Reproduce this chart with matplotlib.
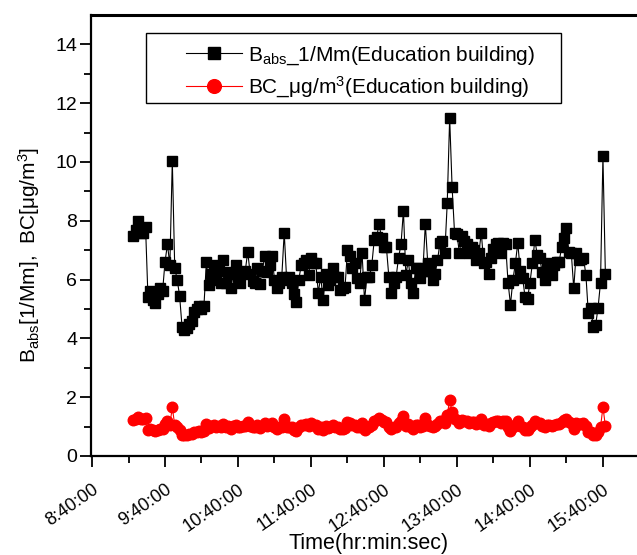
import pandas as pd
import matplotlib
matplotlib.use('Agg')
import matplotlib.pyplot as plt
import matplotlib.dates as mdates
from matplotlib.patches import Rectangle

plt.rcParams['font.family'] = ['Liberation Sans', 'DejaVu Sans']
plt.rcParams['mathtext.fontset'] = 'custom'
plt.rcParams['mathtext.rm'] = 'Liberation Sans'
plt.rcParams['mathtext.it'] = 'Liberation Sans:italic'

# -----------------------------
# Data (sampled every 2 min)
# -----------------------------
sample_start = '2013-01-01 09:14:00'
sample_step = '2min'

babs = [7.5, 7.7, 8.0, 7.6, 7.6, 7.8,
        5.4, 5.6, 5.3, 5.2, 5.5, 5.7, 5.6,
        6.6, 7.2, 6.5, 10.05, 6.4, 6.0, 5.45,
        4.4, 4.3, 4.35, 4.5, 4.6, 4.9, 5.0, 5.1, 5.0, 5.1,
        6.6, 5.8, 6.2, 6.5, 6.0,
        6.3, 5.9, 6.65, 5.9, 6.25, 5.7, 6.2, 6.5, 6.1, 5.9,
        6.25, 6.3, 6.95, 6.2, 5.95, 5.9, 6.4, 5.85, 6.3, 6.8,
        6.25, 6.5, 6.8, 6.0, 5.7, 5.9, 6.1, 7.6, 6.0, 6.1,
        5.9, 5.5, 5.25, 6.0, 6.5, 6.55, 6.65, 6.15, 6.75, 6.55,
        6.55, 5.55, 6.1, 5.3, 6.2, 5.8, 6.0, 6.4, 6.1, 6.1,
        5.65, 5.7, 5.75, 7.0, 6.8, 6.4, 6.55, 6.05, 5.9, 6.9,
        5.3, 6.1, 6.1, 6.5, 7.35, 7.45, 7.9, 7.4, 7.1, 7.1,
        6.1, 5.55, 5.9, 6.1, 6.75, 7.2, 8.35, 6.15, 6.65, 5.9,
        5.55, 6.4, 6.4, 6.05, 6.3, 7.9, 6.55, 6.3, 6.0, 6.2,
        6.65, 7.25, 7.3, 6.9, 8.6, 11.5, 9.15, 7.6, 7.55, 6.9,
        7.5, 7.3, 7.2, 6.9, 7.1, 7.0, 6.65, 6.9, 7.6, 6.55,
        6.6, 6.2, 6.75, 7.05, 7.2, 7.25, 6.9, 7.25, 7.2, 5.9,
        5.15, 6.0, 6.55, 7.25, 6.3, 6.05, 5.4, 5.35, 5.9, 6.55,
        7.35, 6.85, 6.75, 6.25, 6.0, 6.4, 6.55, 6.15, 6.5, 6.6,
        6.6, 7.1, 7.4, 7.75, 6.95, 6.9, 5.7, 6.9, 6.65, 6.7,
        6.75, 6.15, 4.85, 5.05, 4.4, 4.45, 5.05, 5.9, 10.2, 6.2]

bc = [1.23, 1.26, 1.31, 1.25, 1.25, 1.28,
      0.89, 0.92, 0.87, 0.85, 0.90, 0.93, 0.92,
      1.08, 1.18, 1.07, 1.65, 1.05, 0.98, 0.89,
      0.72, 0.70, 0.71, 0.74, 0.75, 0.80, 0.82, 0.84, 0.82, 0.84,
      1.08, 0.95, 1.02, 1.07, 0.98,
      1.03, 0.97, 1.09, 0.97, 1.02, 0.93, 1.02, 1.07, 1.00, 0.97,
      1.02, 1.03, 1.14, 1.02, 0.98, 0.97, 1.05, 0.96, 1.03, 1.11,
      1.02, 1.07, 1.11, 0.98, 0.93, 0.97, 1.00, 1.25, 0.98, 1.00,
      0.97, 0.90, 0.86, 0.98, 1.07, 1.07, 1.09, 1.01, 1.11, 1.07,
      1.07, 0.91, 1.00, 0.87, 1.02, 0.95, 0.98, 1.05, 1.00, 1.00,
      0.93, 0.93, 0.94, 1.15, 1.11, 1.05, 1.07, 0.99, 0.97, 1.13,
      0.87, 1.00, 1.00, 1.07, 1.20, 1.22, 1.30, 1.21, 1.16, 1.16,
      1.00, 0.91, 0.97, 1.00, 1.11, 1.18, 1.37, 1.01, 1.09, 0.97,
      0.91, 1.05, 1.05, 0.99, 1.03, 1.30, 1.07, 1.03, 0.98, 1.02,
      1.09, 1.19, 1.20, 1.13, 1.41, 1.89, 1.50, 1.25, 1.24, 1.13,
      1.23, 1.20, 1.18, 1.13, 1.16, 1.15, 1.09, 1.13, 1.25, 1.07,
      1.08, 1.02, 1.11, 1.16, 1.18, 1.19, 1.13, 1.19, 1.18, 0.97,
      0.84, 0.98, 1.07, 1.19, 1.03, 0.99, 0.89, 0.88, 0.97, 1.07,
      1.20, 1.12, 1.11, 1.02, 0.98, 1.05, 1.07, 1.01, 1.07, 1.08,
      1.08, 1.16, 1.21, 1.27, 1.14, 1.13, 0.93, 1.13, 1.09, 1.10,
      1.11, 1.01, 0.80, 0.83, 0.72, 0.73, 0.83, 0.97, 1.67, 1.02]

times = pd.date_range(sample_start, periods=len(babs), freq=sample_step)

label_babs = r'B$_{\mathregular{abs}}$_1/Mm(Education building)'
label_bc = r'BC_μg/m$^{\mathregular{3}}$(Education building)'

# -----------------------------
# Figure
# -----------------------------
W, H = 637, 555
fig = plt.figure(figsize=(W / 100, H / 100), dpi=100)
ax = fig.add_axes([91 / W, 1 - 456 / H, 546 / W, 441 / H])

ax.plot(times, babs, color='black', lw=0.8, marker='s', ms=7,
        label=label_babs)
ax.plot(times, bc, color='red', lw=0.8, marker='o', ms=7.6,
        label=label_bc)

ax.set_xlim(pd.Timestamp('2013-01-01 08:39:10'), pd.Timestamp('2013-01-01 16:08:00'))
ax.set_ylim(0, 15)

ax.xaxis.set_major_locator(mdates.MinuteLocator(byminute=[40]))
ax.xaxis.set_minor_locator(mdates.MinuteLocator(byminute=[10, 40]))
ax.xaxis.set_major_formatter(mdates.DateFormatter('%-H:%M:%S'))
ax.set_yticks(range(0, 15, 2))
ax.set_yticks(range(1, 15, 2), minor=True)

ax.tick_params(axis='both', which='major', length=8, width=1.3, labelsize=14,
               direction='out')
ax.tick_params(axis='x', labelsize=13, pad=10)
ax.tick_params(axis='both', which='minor', length=5, width=1.3, direction='out')
ax.tick_params(axis='y', pad=2)
for lab in ax.get_xticklabels():
    lab.set_rotation(35)
    lab.set_ha('right')
    lab.set_va('top')
    lab.set_rotation_mode('anchor')

for side in ['left', 'bottom', 'top']:
    ax.spines[side].set_linewidth(1.6)
ax.spines['top'].set_linewidth(2.2)
ax.spines['right'].set_visible(False)

ax.set_xlabel('Time(hr:min:sec)', fontsize=15.5)
ax.xaxis.label.set_va('baseline')
ax.xaxis.set_label_coords((369 - 91) / 546, (456 - 549) / 441)
ax.set_ylabel(r'B$_{\mathregular{abs}}$[1/Mm],  BC[μg/m$^{\mathregular{3}}$]',
              fontsize=15)
ax.yaxis.set_label_coords((42 - 91) / 546, (456 - 255) / 441)

# Legend (frame drawn separately)
leg = ax.legend(loc='upper left', bbox_to_anchor=(176 / W, 1 - 34 / H),
                bbox_transform=fig.transFigure, frameon=False, fontsize=15,
                borderpad=0, handlelength=2.65, handletextpad=0.3,
                labelspacing=0.35, markerscale=1.3)
fig.add_artist(Rectangle((146 / W, 1 - 103 / H), 415 / W, 70 / H,
                         transform=fig.transFigure, fill=False,
                         edgecolor='black', lw=1.0))

fig.savefig('out.png', dpi=100)
